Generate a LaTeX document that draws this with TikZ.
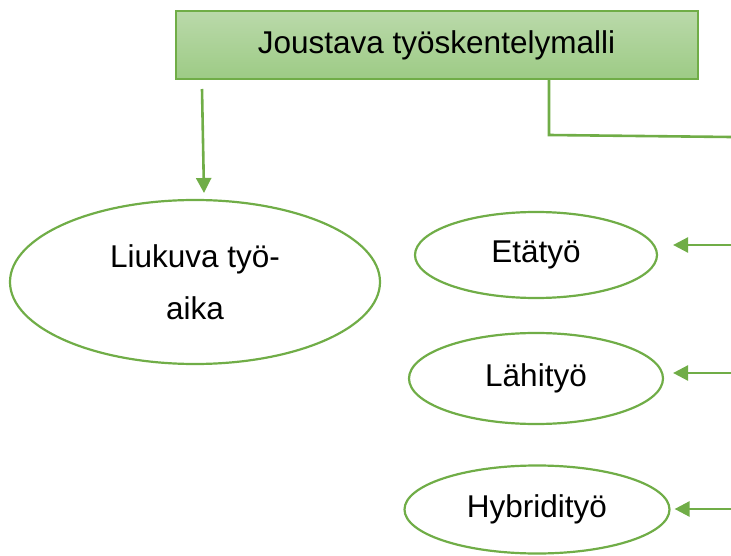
\documentclass[tikz,border=0pt]{standalone}
\usepackage{fontspec}
\setmainfont{Liberation Sans}
\usetikzlibrary{arrows.meta,shapes.geometric}
\definecolor{gline}{HTML}{70AD47}
\definecolor{gtop}{HTML}{BAD9AA}
\definecolor{gbot}{HTML}{9DCB85}
\tikzset{
  txt/.style={font=\fontsize{31.5}{52}\selectfont, text=black},
  topbox/.style={txt, draw=gline, line width=2pt, top color=gtop, bottom color=gbot,
    minimum width=522pt, minimum height=68pt, inner sep=0pt},
  oval/.style={txt, ellipse, draw=gline, line width=2.2pt, inner sep=0pt, align=center},
  arr/.style={draw=gline, line width=2.6pt, -{Triangle[length=15pt,width=15pt]}},
  conn/.style={draw=gline, line width=2.6pt}
}
\begin{document}
\begin{tikzpicture}[x=1pt,y=-1pt]
\useasboundingbox (0,0) rectangle (731,556);
\node[topbox] (box) at (436.5,45) {Joustava työskentelymalli};
\node[oval, minimum width=370pt, minimum height=164pt] (lk) at (195,282) {Liukuva työ-\\aika};
\node[oval, minimum width=242pt, minimum height=86pt] (et) at (536,255) {Etätyö};
\node[oval, minimum width=254pt, minimum height=91pt] (la) at (536,378.5) {Lähityö};
\node[oval, minimum width=265pt, minimum height=88pt] (hy) at (537,509.5) {Hybridityö};
% left arrow
\coordinate (a1) at (202,89);
\coordinate (a1e) at (204,193);
\draw[arr] (a1) -- (a1e);
% right connector
\coordinate (c1) at (549,79);
\coordinate (c2) at (549,135);
\coordinate (c3) at (731,137);
\draw[conn] (c1) -- (c2) -- (c3);
% right arrows
\coordinate (r1) at (731,245);
\coordinate (r2) at (731,373);
\coordinate (r3) at (731,509);
\draw[arr] (r1) -- ([xshift=15pt]et.east |- r1);
\draw[arr] (r2) -- ([xshift=9pt]la.east |- r2);
\draw[arr] (r3) -- ([xshift=4pt]hy.east |- r3);
\end{tikzpicture}
\end{document}
